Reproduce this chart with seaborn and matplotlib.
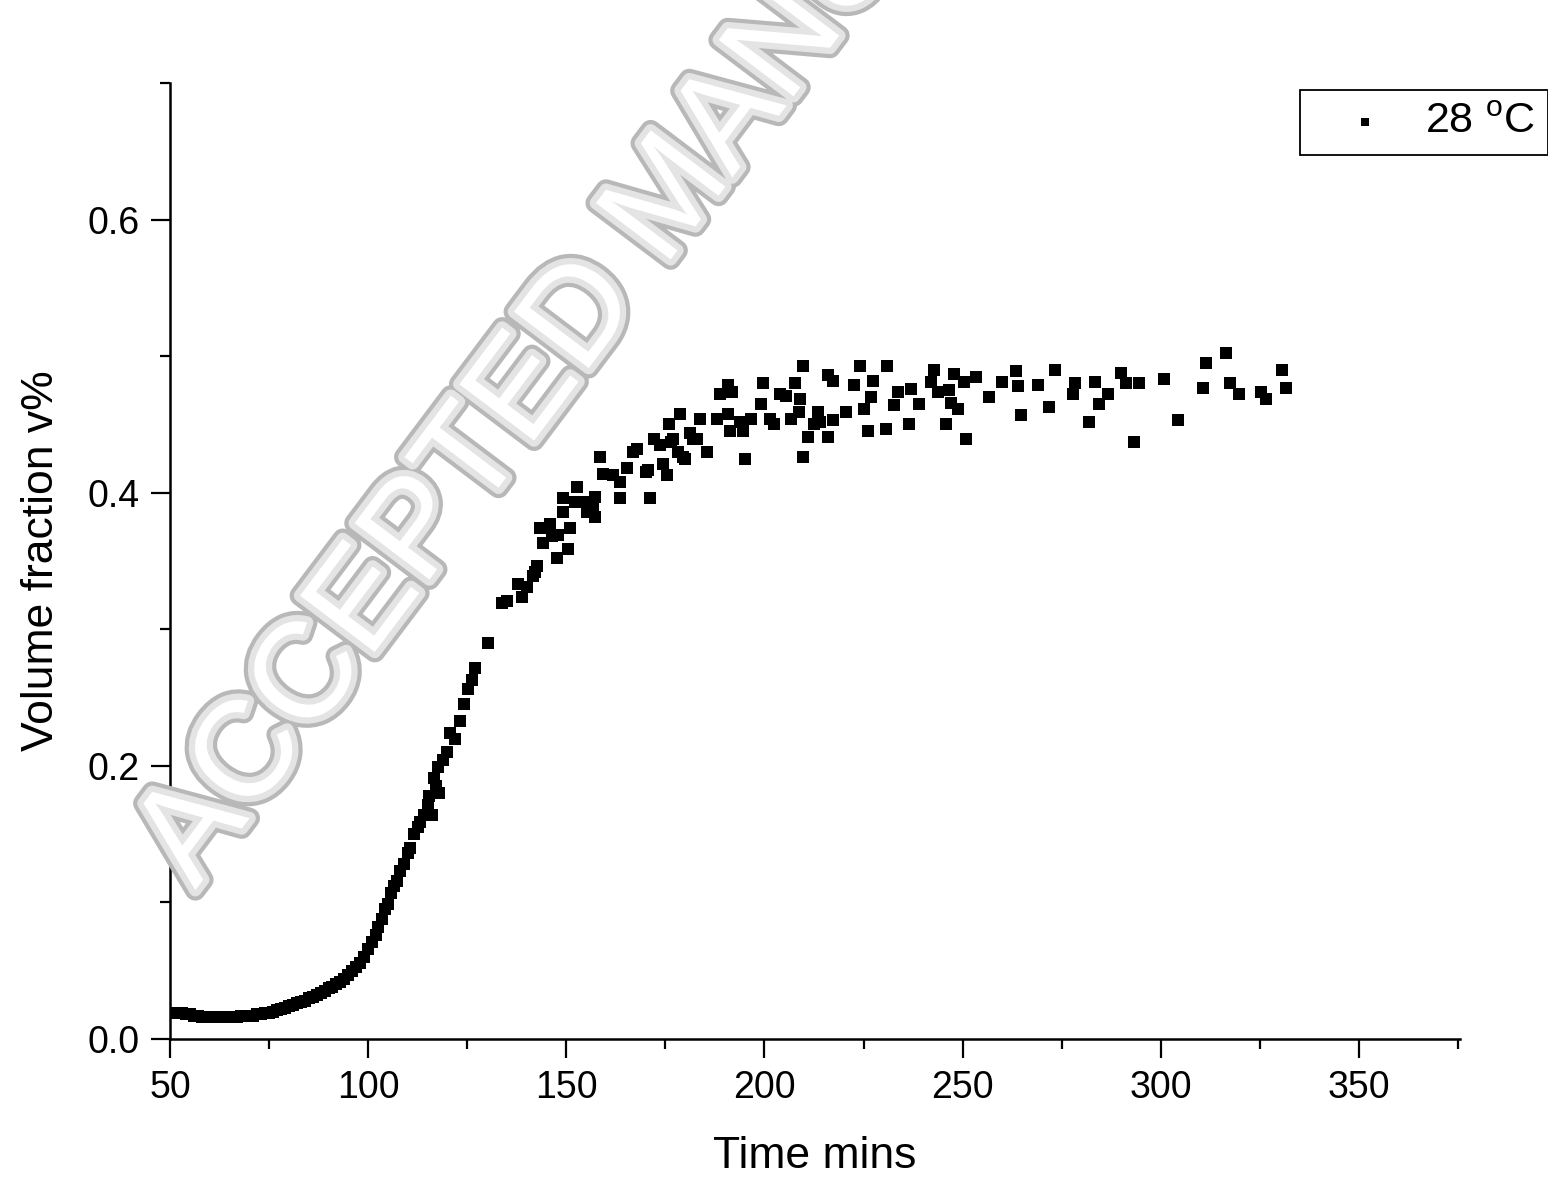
import numpy as np
import pandas as pd
import matplotlib
matplotlib.use("Agg")
import matplotlib.pyplot as plt
import matplotlib.patheffects as pe
from matplotlib.ticker import MultipleLocator
import seaborn as sns

# values
time_early = [50, 51, 52, 53, 54, 55, 56, 57, 58, 59, 60, 61, 62, 63, 64, 65, 66, 67, 68, 69,
              70, 71, 72, 73, 74, 75, 76, 77, 78, 79, 80, 81, 82, 83, 84, 85, 86, 87, 88, 89,
              90, 91, 92, 93, 94, 95, 96, 97, 98, 99]
vf_early = [0.019, 0.019, 0.019, 0.019, 0.018, 0.018, 0.017, 0.017, 0.016, 0.016,
            0.016, 0.016, 0.016, 0.016, 0.016, 0.016, 0.016, 0.016, 0.017, 0.017,
            0.017, 0.017, 0.018, 0.018, 0.019, 0.019, 0.020, 0.021, 0.022, 0.023,
            0.024, 0.025, 0.026, 0.027, 0.028, 0.030, 0.031, 0.032, 0.034, 0.035,
            0.037, 0.038, 0.040, 0.042, 0.044, 0.047, 0.050, 0.053, 0.056, 0.060]

time_rise = [100, 101, 102, 102.5, 103.5, 104.3, 105, 105.8, 106.5, 107.3, 108, 109, 110,
             110.6, 111.5, 112.6, 113, 114, 115, 115.3, 116, 116.5, 117, 117.7, 118, 119,
             120, 120.7, 122, 123.2, 124.2, 125.3, 126.3, 127, 130.3]
vf_rise = [0.066, 0.071, 0.076, 0.082, 0.088, 0.095, 0.099, 0.107, 0.112, 0.116, 0.123,
           0.128, 0.136, 0.140, 0.150, 0.155, 0.159, 0.164, 0.171, 0.178, 0.164, 0.191,
           0.185, 0.199, 0.180, 0.204, 0.210, 0.224, 0.220, 0.233, 0.245, 0.256, 0.263,
           0.272, 0.290]

time_mid = [133.8, 135, 137.9, 138.9, 140, 141.7, 142.2, 142.7, 144, 143.4, 146, 146.5,
            147.7, 148, 149.2, 149.2, 150.5, 151, 152.3, 152.8, 154.8, 155.3, 156.8, 157.3,
            157.3, 158.6, 159.3, 161.9, 163.6, 163.6, 165.4, 166.9, 167.9, 170, 170.5, 171.2,
            172, 173.7, 174.5, 175.5, 175.8, 176.3, 177, 178.3, 178.8, 179.5, 180, 181.3, 182,
            183, 183.8, 185.6]
vf_mid = [0.319, 0.321, 0.333, 0.324, 0.331, 0.339, 0.342, 0.346, 0.363, 0.374, 0.377, 0.368,
          0.352, 0.369, 0.386, 0.396, 0.359, 0.374, 0.393, 0.404, 0.393, 0.386, 0.388, 0.382,
          0.397, 0.426, 0.414, 0.413, 0.408, 0.396, 0.418, 0.430, 0.432, 0.415, 0.417, 0.396,
          0.439, 0.435, 0.421, 0.413, 0.450, 0.437, 0.439, 0.430, 0.458, 0.426, 0.425, 0.444,
          0.439, 0.439, 0.454, 0.430]

time_late = [188, 188.9, 190.7, 190.9, 191.4, 191.9, 193.9, 194.7, 195.2, 196.5, 199, 199.7,
             201.5, 202.3, 204, 205.5, 206.6, 207.8, 208.6, 209, 209.6, 209.8, 211.1, 212.4,
             213.4, 214.1, 215.9, 215.9, 217.4, 217.4, 220.5, 222.5, 224.2, 225, 226, 226.8,
             227.5, 230.6, 231, 232.6, 233.6, 236.4, 236.9, 238.9, 241.9, 242.7, 243.7, 245.7,
             246.5, 247, 247.7, 248.7, 250.3, 250.8, 253.3, 256.6, 260, 263.4, 263.9, 264.6,
             268.9, 271.7, 273.4, 277.8, 278.3, 281.8, 283.3, 284.3, 286.6, 289.9, 291.2, 293.2,
             294.4, 300.8, 304.3, 310.6, 311.4, 316.4, 317.4, 319.7, 325.3, 326.5, 330.6, 331.6]
vf_late = [0.454, 0.472, 0.479, 0.458, 0.445, 0.474, 0.452, 0.445, 0.425, 0.454, 0.465, 0.480,
           0.454, 0.450, 0.472, 0.471, 0.454, 0.480, 0.459, 0.469, 0.426, 0.493, 0.441, 0.450,
           0.459, 0.452, 0.486, 0.441, 0.482, 0.453, 0.459, 0.479, 0.493, 0.461, 0.445, 0.470,
           0.482, 0.447, 0.493, 0.464, 0.474, 0.450, 0.476, 0.465, 0.481, 0.490, 0.474, 0.450,
           0.475, 0.466, 0.487, 0.461, 0.481, 0.439, 0.485, 0.470, 0.481, 0.489, 0.478, 0.457,
           0.479, 0.463, 0.490, 0.472, 0.480, 0.452, 0.481, 0.465, 0.472, 0.488, 0.480, 0.437,
           0.480, 0.483, 0.453, 0.477, 0.495, 0.502, 0.480, 0.472, 0.474, 0.469, 0.490, 0.477]

series_label = "28 $^\\mathregular{o}$C"
x_ticks = [50, 100, 150, 200, 250, 300, 350]
y_ticks = [0.0, 0.2, 0.4, 0.6]

df = pd.DataFrame({
    "Time": time_early + time_rise + time_mid + time_late,
    "VF": vf_early + vf_rise + vf_mid + vf_late,
})

sns.set_style("ticks")
plt.rcParams["font.family"] = ["Liberation Sans", "DejaVu Sans"]
plt.rcParams["text.color"] = "black"
plt.rcParams["axes.labelcolor"] = "black"
plt.rcParams["xtick.color"] = "black"
plt.rcParams["ytick.color"] = "black"
plt.rcParams["axes.edgecolor"] = "black"

fig = plt.figure(figsize=(15.48, 11.78), dpi=100)
ax = fig.add_axes([0.1098, 0.118, 0.8334, 0.8115])

# watermark
fig.text(0.108, 0.262, "ACCEPTED MANUSCRIPT", rotation=53, rotation_mode="anchor",
         ha="left", va="center", fontsize=98, color="white", zorder=0,
         path_effects=[pe.Stroke(linewidth=15, foreground="#b8b8b8"),
                       pe.Stroke(linewidth=9, foreground="#e4e4e4"),
                       pe.Normal()])

sns.scatterplot(data=df, x="Time", y="VF", marker="s", color="black", s=72,
                linewidth=0, ax=ax, label=series_label, zorder=3)
ax.patch.set_alpha(0)

ax.set_xlim(50, 375.5)
ax.set_ylim(0, 0.7)
ax.set_xticks(x_ticks)
ax.set_yticks(y_ticks)
ax.set_yticklabels([f"{v:.1f}" for v in y_ticks])
ax.xaxis.set_minor_locator(MultipleLocator(25))
ax.yaxis.set_minor_locator(MultipleLocator(0.1))
ax.tick_params(which="major", direction="out", length=14, width=1.6, labelsize=27, pad=8)
ax.tick_params(which="minor", direction="out", length=7, width=1.6)
for side in ["top", "right"]:
    ax.spines[side].set_visible(False)
for side in ["left", "bottom"]:
    ax.spines[side].set_linewidth(1.8)

ax.set_xlabel("Time mins", fontsize=32, labelpad=22)
ax.set_ylabel("Volume fraction v%", fontsize=32, labelpad=18)

leg = ax.legend(loc="upper left", bbox_to_anchor=(0.8398, 0.924), bbox_transform=fig.transFigure,
                borderaxespad=0, fontsize=31, markerscale=0.6, handletextpad=0.19,
                handlelength=2.42, borderpad=0.3, fancybox=False, framealpha=1)
leg.get_frame().set_edgecolor("black")
leg.get_frame().set_linewidth(1.3)

fig.savefig("out.png", dpi=100)
plt.close(fig)
